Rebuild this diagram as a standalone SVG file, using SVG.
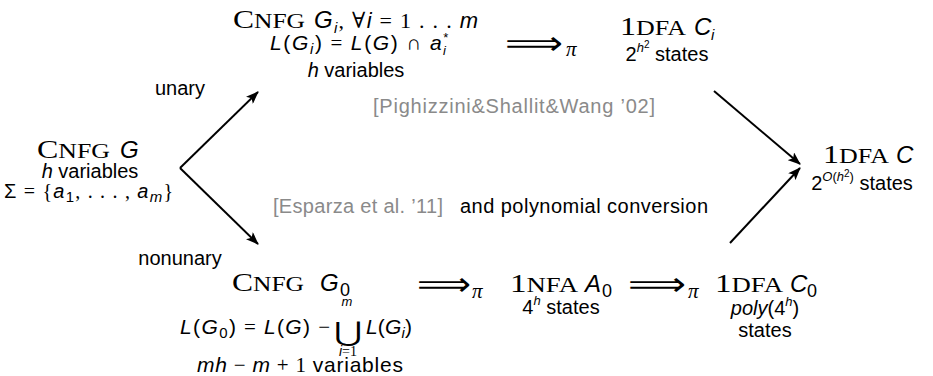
<svg xmlns="http://www.w3.org/2000/svg" width="933" height="376" viewBox="0 0 933 376">
<defs>
<style>
.sf{font-family:"Liberation Serif","DejaVu Serif",serif;}
.ss{font-family:"Liberation Sans","DejaVu Sans",sans-serif;}
.it{font-style:italic;}
.cap{font-size:26px;}
.sc{font-size:21px;}
.t{font-size:20px;fill:#000;}
.var{font-size:24px;}
.sub{font-size:15px;}
.sup{font-size:13px;}
.grey{fill:#8a8a8a;}
.arr{font-family:"DejaVu Sans",sans-serif;font-size:32px;}
.pi{font-family:"Liberation Serif","DejaVu Serif",serif;font-style:italic;font-size:21px;}
.edge{stroke:#000;stroke-width:2;fill:none;marker-end:url(#ah);}
</style>
<marker id="ah" viewBox="0 0 13 10" refX="12" refY="5" markerWidth="13" markerHeight="10" markerUnits="userSpaceOnUse" orient="auto">
<path d="M0,0 L13,5 L0,10 L3,5 Z" fill="#000"/>
</marker>
</defs>
<rect width="933" height="376" fill="#fff"/>

<g id="connectors">
<path class="edge" d="M180,168 L258,92"/>
<path class="edge" d="M180,168 L258,244"/>
<path class="edge" d="M714,91 L800,164"/>
<path class="edge" d="M730,243 L800,168"/>
</g>

<g id="node-G">
<text x="37" y="158" class="sf" textLength="73" lengthAdjust="spacingAndGlyphs"><tspan class="cap">C</tspan><tspan class="sc">NFG</tspan></text>
<text x="120" y="158" class="ss it var">G</text>
<text x="90" y="178" text-anchor="middle" class="t ss"><tspan class="it">h</tspan> variables</text>
<text x="4" y="198" class="t" textLength="169"><tspan class="ss">Σ</tspan><tspan class="sf"> = {</tspan><tspan class="ss it">a</tspan><tspan class="ss sub" dy="4">1</tspan><tspan class="sf" dy="-4">, . . . , </tspan><tspan class="ss it">a</tspan><tspan class="ss it sub" dy="4">m</tspan><tspan class="sf" dy="-4">}</tspan></text>
</g>

<g id="label-unary"><text x="180" y="95" text-anchor="middle" class="ss t">unary</text></g>
<g id="label-nonunary"><text x="180" y="265" text-anchor="middle" class="ss t">nonunary</text></g>

<g id="node-Gi">
<text x="233" y="28" class="sf" textLength="72" lengthAdjust="spacingAndGlyphs"><tspan class="cap">C</tspan><tspan class="sc">NFG</tspan></text>
<text x="314" y="28" class="t" textLength="164"><tspan class="ss it var">G</tspan><tspan class="ss it sub" dy="5">i</tspan><tspan class="sf" dy="-5" font-size="22">, ∀</tspan><tspan class="ss it" font-size="22">i</tspan><tspan class="sf" font-size="22"> = 1 . . . </tspan><tspan class="ss it" font-size="22">m</tspan></text>
<text x="270" y="50" font-size="21" textLength="180"><tspan class="ss it">L</tspan><tspan class="ss">(</tspan><tspan class="ss it">G</tspan><tspan class="ss it sub" dy="4">i</tspan><tspan class="ss" dy="-4">)</tspan><tspan class="sf"> = </tspan><tspan class="ss it">L</tspan><tspan class="ss">(</tspan><tspan class="ss it">G</tspan><tspan class="ss">)</tspan><tspan class="sf"> ∩ </tspan><tspan class="ss it">a</tspan><tspan class="ss sup" dy="-8">*</tspan><tspan class="ss it sup" dx="-7" dy="13">i</tspan></text>
<text x="356" y="77" text-anchor="middle" class="t ss"><tspan class="it">h</tspan> variables</text>
</g>

<g id="impl-top">
<text x="505" y="54" class="arr" textLength="58" lengthAdjust="spacingAndGlyphs">⟹</text>
<text x="566" y="56" class="pi">π</text>
</g>

<g id="node-Ci">
<text x="620" y="35" class="sf" textLength="66" lengthAdjust="spacingAndGlyphs"><tspan class="cap">1</tspan><tspan class="sc">DFA</tspan></text>
<text x="694" y="35" class="ss it var">C</text>
<text x="711" y="40" class="ss it sub">i</text>
<text x="667" y="61" text-anchor="middle" class="t"><tspan class="ss">2</tspan><tspan class="ss it sup" dy="-9">h</tspan><tspan class="ss" font-size="10" dy="-4">2</tspan><tspan class="ss" dy="13"> states</tspan></text>
</g>

<g id="cite-psw"><text x="373" y="113" class="ss grey" font-size="20" textLength="282">[Pighizzini&amp;Shallit&amp;Wang ’02]</text></g>

<g id="node-C">
<text x="823" y="163" class="sf" textLength="66" lengthAdjust="spacingAndGlyphs"><tspan class="cap">1</tspan><tspan class="sc">DFA</tspan></text>
<text x="896" y="163" class="ss it var">C</text>
<text x="862" y="190" text-anchor="middle" class="t"><tspan class="ss">2</tspan><tspan class="ss it sup" dy="-9">O</tspan><tspan class="ss sup">(</tspan><tspan class="ss it sup">h</tspan><tspan class="ss" font-size="10" dy="-4">2</tspan><tspan class="ss sup" dy="4">)</tspan><tspan class="ss" dy="9"> states</tspan></text>
</g>

<g id="cite-esparza">
<text x="273" y="213" class="ss grey" font-size="20" textLength="170">[Esparza et al. ’11]</text>
<text x="460" y="213" class="ss" font-size="20" textLength="248">and polynomial conversion</text>
</g>

<g id="node-G0">
<text x="232" y="291" class="sf" textLength="72" lengthAdjust="spacingAndGlyphs"><tspan class="cap">C</tspan><tspan class="sc">NFG</tspan></text>
<text x="320" y="291" class="ss it var">G</text>
<text x="340" y="296" class="ss" font-size="18">0</text>
<text x="180" y="334" font-size="21" textLength="150"><tspan class="ss it">L</tspan><tspan class="ss">(</tspan><tspan class="ss it">G</tspan><tspan class="ss sub" dy="4">0</tspan><tspan class="ss" dy="-4">)</tspan><tspan class="sf"> = </tspan><tspan class="ss it">L</tspan><tspan class="ss">(</tspan><tspan class="ss it">G</tspan><tspan class="ss">)</tspan><tspan class="sf"> − </tspan></text>
<text x="334" y="341" class="sf" font-size="27" textLength="28" lengthAdjust="spacingAndGlyphs">⋃</text>
<text x="347" y="306" text-anchor="middle" class="ss it sup">m</text>
<text x="348" y="356" text-anchor="middle" font-size="14"><tspan class="ss it">i</tspan><tspan class="sf">=1</tspan></text>
<text x="366" y="334" font-size="21" textLength="46"><tspan class="ss it">L</tspan><tspan class="ss">(</tspan><tspan class="ss it">G</tspan><tspan class="ss it sub" dy="4">i</tspan><tspan class="ss" dy="-4">)</tspan></text>
<text x="197" y="372" font-size="21" textLength="206"><tspan class="ss it">mh</tspan><tspan class="sf"> − </tspan><tspan class="ss it">m</tspan><tspan class="sf"> + 1 </tspan><tspan class="ss">variables</tspan></text>
</g>

<g id="impl-b1">
<text x="417" y="295" class="arr" textLength="54" lengthAdjust="spacingAndGlyphs">⟹</text>
<text x="472" y="298" class="pi">π</text>
</g>

<g id="node-A0">
<text x="510" y="292" class="sf" textLength="68" lengthAdjust="spacingAndGlyphs"><tspan class="cap">1</tspan><tspan class="sc">NFA</tspan></text>
<text x="585" y="292" class="ss it var">A</text>
<text x="602" y="297" class="ss" font-size="18">0</text>
<text x="561" y="314" text-anchor="middle" class="t"><tspan class="ss">4</tspan><tspan class="ss it sup" dy="-9">h</tspan><tspan class="ss" dy="9"> states</tspan></text>
</g>

<g id="impl-b2">
<text x="628" y="295" class="arr" textLength="58" lengthAdjust="spacingAndGlyphs">⟹</text>
<text x="688" y="298" class="pi">π</text>
</g>

<g id="node-C0">
<text x="715" y="292" class="sf" textLength="68" lengthAdjust="spacingAndGlyphs"><tspan class="cap">1</tspan><tspan class="sc">DFA</tspan></text>
<text x="790" y="292" class="ss it var">C</text>
<text x="807" y="297" class="ss" font-size="18">0</text>
<text x="765" y="315" text-anchor="middle" class="t"><tspan class="ss it">poly</tspan><tspan class="ss">(4</tspan><tspan class="ss it sup" dy="-9">h</tspan><tspan class="ss" dy="9">)</tspan></text>
<text x="765" y="337" text-anchor="middle" class="t ss">states</text>
</g>
</svg>
